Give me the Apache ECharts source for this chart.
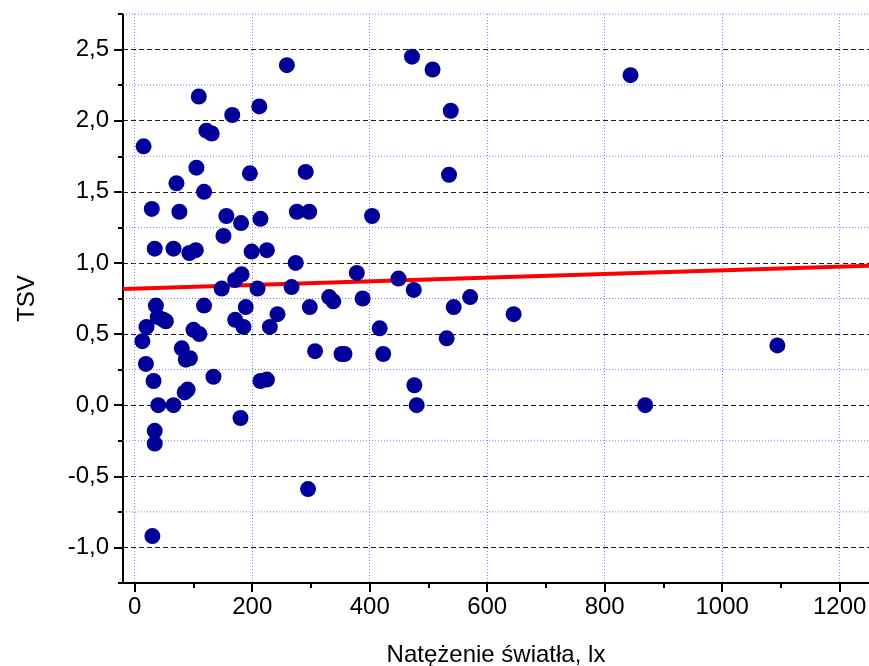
<!DOCTYPE html>
<html>
<head>
<meta charset="utf-8">
<script src="https://cdn.jsdelivr.net/npm/echarts@6/dist/echarts.min.js"></script>
<style>
  html, body { margin: 0; padding: 0; background: #ffffff; }
  #chart { width: 869px; height: 666px; }
</style>
</head>
<body>
<div id="chart"></div>
<script>
// Illuminance (lx) and thermal sensation vote (TSV) per respondent
const lux = [
  15, 13, 20, 19, 29, 34, 36, 32, 34, 34,
  30, 40, 39, 49, 53, 66, 66, 71, 76, 80,
  87, 94, 85, 90, 93, 104, 100, 110, 105, 109,
  118, 118, 122, 131, 134, 148, 151, 156, 166, 171,
  182, 171, 181, 180, 185, 189, 196, 199, 209, 212,
  214, 214, 225, 225, 230, 243, 259, 267, 274, 276,
  291, 297, 298, 295, 307, 331, 338, 352, 357, 378,
  388, 404, 417, 423, 449, 472, 475, 476, 480, 507,
  531, 535, 538, 543, 571, 645, 844, 869, 1094
];
const tsv = [
  1.82, 0.45, 0.55, 0.29, 1.38, 1.10, 0.70, 0.17, -0.18, -0.27,
  -0.92, 0.00, 0.62, 0.60, 0.59, 0.00, 1.10, 1.56, 1.36, 0.40,
  0.32, 0.33, 0.09, 0.11, 1.07, 1.09, 0.53, 0.50, 1.67, 2.17,
  1.50, 0.70, 1.93, 1.91, 0.20, 0.82, 1.19, 1.33, 2.04, 0.88,
  0.92, 0.60, 1.28, -0.09, 0.55, 0.69, 1.63, 1.08, 0.82, 2.10,
  1.31, 0.17, 0.18, 1.09, 0.55, 0.64, 2.39, 0.83, 1.00, 1.36,
  1.64, 1.36, 0.69, -0.59, 0.38, 0.76, 0.73, 0.36, 0.36, 0.93,
  0.75, 1.33, 0.54, 0.36, 0.89, 2.45, 0.81, 0.14, 0.00, 2.36,
  0.47, 1.62, 2.07, 0.69, 0.76, 0.64, 2.32, 0.00, 0.42
];

// Linear fit line end points
const trendLux = [-20, 1250];
const trendTsv = [0.816, 0.980];

// Axis ranges and tick positions
const xRange = [-20, 1250];
const yRange = [-1.25, 2.75];
const xMajorTicks = [0, 200, 400, 600, 800, 1000, 1200];
const xMinorTicks = [0, 100, 200, 300, 400, 500, 600, 700, 800, 900, 1000, 1100, 1200];
const yMajorTicks = [-1.0, -0.5, 0.0, 0.5, 1.0, 1.5, 2.0, 2.5];
const yMinorLines = [-0.75, -0.25, 0.25, 0.75, 1.25, 1.75, 2.25, 2.75];
const yStep = 0.25;

const points = lux.map((x, i) => [x, tsv[i]]);
const trend = trendLux.map((x, i) => [x, trendTsv[i]]);

const FONT = 'Liberation Sans, Arial, sans-serif';
const FS = 24;
const BLUE_DOT = '#8080ff';

const chart = echarts.init(document.getElementById('chart'), null, { renderer: 'canvas' });

const isMajorY = v => Math.abs(v * 2 - Math.round(v * 2)) < 1e-6;

// dotted blue horizontal gridlines halfway between the labelled values
const minorGridSeries = yMinorLines.map(v => ({
  type: 'line', data: [[xRange[0], v], [xRange[1], v]],
  xAxisIndex: 0, yAxisIndex: 0, clip: false,
  showSymbol: false, symbol: 'none', z: 1, silent: true,
  lineStyle: { color: BLUE_DOT, width: 1, type: [1, 2] },
  emphasis: { disabled: true }, tooltip: { show: false }
}));

chart.setOption({
  animation: false,
  backgroundColor: '#ffffff',
  grid: { left: 123, right: 0, top: 14, bottom: 83, containLabel: false, outerBoundsMode: 'none' },
  xAxis: [
    {
      type: 'value', min: xRange[0], max: xRange[1], position: 'bottom',
      name: 'Natężenie światła, lx', nameLocation: 'middle', nameGap: 60,
      nameTextStyle: { fontFamily: FONT, fontSize: FS, color: '#000' },
      axisLine: { show: true, onZero: false, lineStyle: { color: '#000', width: 2 } },
      axisTick: { show: true, inside: false, length: 5, customValues: xMinorTicks, lineStyle: { color: '#000', width: 2 } },
      axisLabel: { show: true, customValues: xMajorTicks, margin: 12, fontFamily: FONT, fontSize: FS, color: '#000',
        formatter: v => String(Math.round(v)) },
      splitLine: { show: false }
    },
    {
      type: 'value', min: xRange[0], max: xRange[1], position: 'bottom',
      axisLine: { show: false, onZero: false },
      axisTick: { show: true, inside: false, length: 9, customValues: xMajorTicks, lineStyle: { color: '#000', width: 2 } },
      axisLabel: { show: false, customValues: xMajorTicks },
      splitLine: { show: true, lineStyle: { color: BLUE_DOT, width: 1, type: [1, 2] } }
    }
  ],
  yAxis: [
    {
      // short ticks every 0.25, labels on whole halves
      type: 'value', min: yRange[0], max: yRange[1], interval: yStep, position: 'left',
      name: 'TSV', nameLocation: 'middle', nameGap: 84, nameRotate: 90,
      nameTextStyle: { fontFamily: FONT, fontSize: FS, color: '#000' },
      axisLine: { show: true, onZero: false, lineStyle: { color: '#000', width: 2 } },
      axisTick: { show: true, inside: false, length: 5, lineStyle: { color: '#000', width: 2 } },
      axisLabel: {
        show: true, margin: 14, fontFamily: FONT, fontSize: FS, color: '#000',
        formatter: v => isMajorY(v) ? v.toFixed(1).replace('.', ',') : ''
      },
      splitLine: { show: false }
    },
    {
      type: 'value', min: yRange[0], max: yRange[1], position: 'left',
      axisLine: { show: false, onZero: false },
      axisTick: { show: true, inside: false, length: 9, customValues: yMajorTicks, lineStyle: { color: '#000', width: 2 } },
      axisLabel: { show: false, customValues: yMajorTicks },
      splitLine: { show: true, lineStyle: { color: '#1a1a1a', width: 1, type: [5, 3] } }
    }
  ],
  series: minorGridSeries.concat([
    {
      type: 'line', data: trend, xAxisIndex: 0, yAxisIndex: 0,
      showSymbol: false, symbol: 'none', z: 3, silent: true,
      lineStyle: { color: '#ff0000', width: 4 }
    },
    {
      type: 'scatter', data: points, xAxisIndex: 0, yAxisIndex: 0,
      symbol: 'circle', symbolSize: 16, z: 4,
      itemStyle: { color: '#000099', opacity: 1 }
    }
  ])
});
</script>
</body>
</html>
